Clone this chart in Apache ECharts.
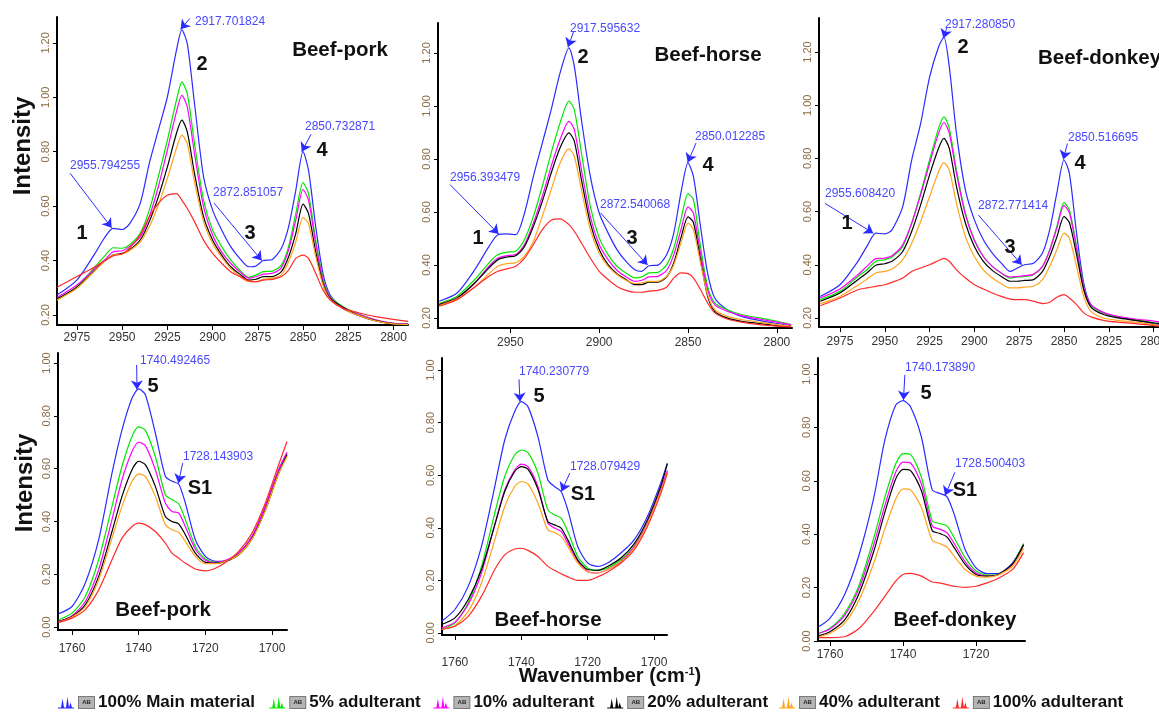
<!DOCTYPE html>
<html>
<head>
<meta charset="utf-8">
<script src="https://cdn.jsdelivr.net/npm/echarts@6/dist/echarts.min.js"></script>
<style>
  html, body { margin: 0; background: #fff; }
  #c { width: 1159px; height: 713px; }
</style>
</head>
<body>
<div id="c"></div>
<script>
// FTIR spectra of beef adulterated with pork / horse / donkey, C-H region (top) and C=O region (bottom).

const NAMES = ["100% Main material", "5% adulterant", "10% adulterant", "20% adulterant", "40% adulterant", "100% adulterant"];
const COLORS = ["#2b2bff", "#00e800", "#ff00ff", "#000000", "#ffa31a", "#ff2a2a"];

// ---- C-H stretching region (cm-1) ----
const xPorkCH = [2986, 2975, 2965, 2960, 2955, 2950, 2946, 2940, 2935, 2930, 2925, 2920, 2917, 2914, 2910, 2905, 2900, 2895, 2890, 2885, 2880, 2876, 2872, 2867, 2862, 2858, 2854, 2850, 2847, 2843, 2839, 2835, 2828, 2820, 2810, 2800, 2792];
const porkCH_main = [.273, .328, .426, .481, .518, .514, .534, .61, .757, .879, 1.001, 1.172, 1.248, 1.197, .977, .708, .585, .512, .451, .408, .377, .38, .40, .404, .445, .524, .659, .80, .732, .524, .353, .273, .224, .20, .179, .169, .167];
const porkCH_5 = [.255, .304, .377, .414, .447, .445, .457, .50, .585, .708, .842, .989, 1.056, 1.013, .83, .622, .512, .451, .402, .365, .338, .347, .359, .361, .383, .451, .573, .686, .646, .475, .335, .267, .231, .206, .182, .167, .163];
const porkCH_10 = [.264, .31, .371, .40, .432, .436, .451, .487, .561, .671, .806, .946, 1.007, .965, .793, .598, .494, .432, .39, .359, .335, .341, .35, .353, .374, .439, .549, .661, .622, .463, .328, .265, .228, .204, .182, .169, .165];
const porkCH_20 = [.259, .302, .365, .396, .42, .426, .439, .475, .543, .634, .744, .867, .916, .873, .72, .561, .475, .42, .377, .35, .328, .331, .341, .341, .359, .414, .50, .607, .573, .432, .316, .261, .228, .20, .179, .167, .165];
const porkCH_40 = [.255, .298, .363, .396, .42, .424, .436, .469, .524, .604, .702, .812, .861, .83, .689, .543, .463, .412, .371, .343, .322, .322, .331, .335, .347, .396, .469, .558, .536, .414, .31, .257, .224, .20, .178, .167, .165];
const porkCH_100 = [.302, .341, .377, .398, .417, .424, .445, .494, .561, .61, .64, .646, .622, .591, .543, .475, .426, .39, .359, .341, .325, .322, .328, .331, .341, .365, .408, .42, .408, .353, .292, .255, .224, .209, .194, .184, .176];

const xHorseCH = [2990, 2980, 2970, 2962, 2957, 2952, 2947, 2942, 2937, 2932, 2927, 2922, 2917, 2914, 2910, 2905, 2900, 2895, 2890, 2885, 2880, 2876, 2872, 2867, 2862, 2858, 2854, 2850, 2847, 2843, 2839, 2835, 2828, 2820, 2810, 2800, 2792];
const horseCH_main = [.263, .294, .382, .47, .514, .517, .514, .596, .735, .86, .986, 1.125, 1.219, 1.15, .948, .735, .596, .521, .458, .414, .382, .376, .397, .399, .439, .521, .672, .785, .735, .546, .37, .275, .231, .206, .191, .179, .171];
const horseCH_5 = [.254, .282, .345, .408, .439, .448, .452, .496, .584, .697, .823, .936, 1.018, .986, .823, .621, .502, .439, .395, .37, .351, .355, .37, .372, .401, .464, .571, .669, .647, .47, .319, .257, .231, .213, .20, .187, .175];
const horseCH_10 = [.25, .275, .332, .395, .426, .435, .439, .477, .558, .659, .772, .873, .942, .911, .76, .584, .477, .42, .38, .355, .338, .342, .355, .357, .38, .439, .533, .619, .596, .445, .307, .25, .225, .209, .196, .184, .174];
const horseCH_20 = [.25, .275, .332, .389, .42, .43, .435, .47, .546, .64, .747, .842, .898, .867, .722, .558, .458, .401, .367, .345, .326, .326, .335, .335, .355, .408, .502, .581, .561, .42, .282, .225, .20, .187, .179, .171, .169];
const horseCH_40 = [.247, .272, .317, .367, .395, .405, .408, .433, .489, .584, .684, .785, .838, .81, .684, .533, .445, .395, .364, .342, .33, .332, .338, .338, .357, .401, .483, .558, .533, .408, .288, .231, .206, .194, .184, .175, .169];
const horseCH_100 = [.244, .269, .317, .357, .376, .385, .395, .426, .477, .533, .569, .574, .552, .527, .483, .426, .376, .345, .319, .304, .297, .297, .301, .304, .317, .351, .37, .367, .351, .307, .257, .219, .196, .184, .175, .169, .166];

const xDonkeyCH = [2986, 2975, 2965, 2960, 2955, 2950, 2946, 2940, 2935, 2930, 2925, 2920, 2917, 2914, 2910, 2905, 2900, 2895, 2890, 2885, 2880, 2876, 2872, 2867, 2862, 2858, 2854, 2850, 2847, 2843, 2839, 2835, 2828, 2820, 2810, 2800, 2796];
const donkeyCH_main = [.281, .325, .413, .469, .519, .516, .531, .619, .794, .931, 1.106, 1.219, 1.256, 1.144, .894, .681, .569, .494, .444, .406, .375, .388, .40, .406, .444, .531, .669, .794, .744, .519, .331, .25, .219, .203, .191, .179, .175];
const donkeyCH_5 = [.269, .30, .356, .381, .413, .419, .429, .469, .556, .669, .794, .913, .956, .913, .756, .594, .494, .431, .394, .369, .35, .354, .356, .363, .394, .456, .544, .634, .606, .469, .319, .246, .219, .204, .194, .181, .179];
const donkeyCH_10 = [.275, .309, .363, .394, .423, .425, .434, .475, .556, .663, .781, .894, .935, .894, .744, .588, .491, .431, .394, .369, .354, .356, .359, .364, .394, .454, .538, .623, .596, .463, .316, .25, .221, .206, .196, .188, .184];
const donkeyCH_20 = [.263, .294, .344, .369, .398, .404, .413, .45, .525, .625, .738, .838, .875, .838, .694, .556, .469, .413, .379, .356, .338, .338, .341, .344, .375, .431, .504, .581, .559, .438, .306, .241, .213, .20, .191, .181, .179];
const donkeyCH_40 = [.254, .281, .323, .346, .369, .375, .384, .419, .481, .563, .656, .75, .784, .756, .631, .506, .431, .381, .35, .329, .313, .313, .316, .319, .344, .394, .456, .519, .50, .394, .281, .225, .20, .191, .184, .175, .171];
const donkeyCH_100 = [.246, .275, .306, .313, .319, .325, .334, .35, .375, .388, .40, .416, .424, .413, .381, .35, .325, .309, .294, .281, .271, .269, .269, .263, .254, .259, .278, .288, .275, .25, .219, .204, .191, .184, .179, .171, .169];

// ---- C=O stretching region (cm-1) ----
const xPorkCO = [1764, 1760, 1756, 1752, 1748, 1745, 1742, 1740, 1738, 1735, 1732, 1730, 1728, 1726, 1723, 1720, 1717, 1714, 1710, 1706, 1702, 1698, 1695.5];
const porkCO_main = [.051, .078, .167, .331, .583, .747, .867, .902, .88, .735, .571, .552, .542, .47, .331, .268, .249, .249, .28, .343, .457, .596, .659];
const porkCO_5 = [.028, .053, .116, .255, .457, .609, .722, .758, .745, .646, .501, .482, .467, .407, .306, .258, .245, .249, .274, .335, .444, .583, .646];
const porkCO_10 = [.021, .043, .097, .217, .407, .558, .665, .70, .687, .596, .47, .438, .432, .381, .295, .253, .245, .253, .28, .343, .457, .596, .662];
const porkCO_20 = [.021, .04, .085, .192, .362, .495, .596, .628, .615, .533, .419, .40, .391, .35, .28, .245, .242, .249, .274, .335, .444, .583, .653];
const porkCO_40 = [.018, .038, .078, .179, .337, .457, .552, .58, .571, .495, .388, .369, .359, .324, .268, .24, .24, .249, .274, .333, .442, .581, .646];
const porkCO_100 = [.018, .034, .066, .141, .255, .337, .381, .394, .388, .362, .318, .28, .261, .242, .22, .213, .223, .245, .287, .356, .47, .615, .703];

const xHorseCO = [1764, 1760, 1756, 1752, 1748, 1745, 1742, 1740, 1738, 1735, 1732, 1730, 1728, 1726, 1723, 1720, 1717, 1714, 1710, 1706, 1702, 1698, 1696];
const horseCO_main = [.044, .089, .177, .329, .557, .734, .842, .88, .861, .747, .582, .557, .538, .468, .329, .266, .253, .266, .304, .354, .443, .57, .646];
const horseCO_5 = [.013, .038, .114, .253, .456, .595, .677, .696, .686, .608, .468, .449, .437, .386, .291, .247, .238, .247, .278, .329, .42, .544, .614];
const horseCO_10 = [.019, .041, .108, .228, .411, .544, .62, .642, .633, .557, .418, .399, .386, .342, .272, .234, .228, .241, .272, .327, .418, .544, .618];
const horseCO_20 = [.032, .057, .127, .241, .411, .538, .614, .633, .623, .547, .424, .411, .399, .354, .278, .241, .238, .253, .285, .339, .43, .557, .643];
const horseCO_40 = [.013, .028, .082, .19, .354, .481, .557, .576, .567, .494, .392, .382, .367, .329, .266, .232, .228, .241, .27, .323, .414, .538, .61];
const horseCO_100 = [.013, .025, .063, .139, .241, .297, .319, .322, .314, .291, .253, .238, .225, .213, .20, .20, .213, .232, .266, .316, .405, .529, .608];

const xDonkeyCO = [1763, 1760, 1756, 1752, 1748, 1745, 1742, 1740, 1738, 1735, 1732, 1730, 1728, 1726, 1723, 1720, 1717, 1714, 1710, 1707];
const donkeyCO_main = [.054, .086, .174, .325, .538, .752, .884, .90, .878, .765, .566, .553, .541, .475, .343, .274, .252, .252, .293, .362];
const donkeyCO_5 = [.029, .048, .104, .211, .387, .538, .664, .702, .699, .614, .45, .44, .431, .387, .312, .262, .247, .249, .289, .365];
const donkeyCO_10 = [.029, .045, .096, .199, .362, .507, .633, .67, .667, .589, .431, .419, .406, .365, .297, .255, .243, .247, .287, .36];
const donkeyCO_20 = [.02, .035, .079, .18, .337, .482, .608, .643, .639, .564, .413, .403, .39, .35, .287, .249, .243, .249, .289, .36];
const donkeyCO_40 = [.016, .029, .067, .155, .293, .419, .532, .57, .566, .501, .377, .365, .352, .318, .268, .243, .239, .247, .281, .347];
const donkeyCO_100 = [.013, .013, .016, .048, .111, .167, .224, .249, .253, .243, .221, .218, .211, .205, .201, .205, .218, .234, .268, .331];

// tick labels
const ticksCH25 = [2975, 2950, 2925, 2900, 2875, 2850, 2825, 2800];
const ticksCH50 = [2950, 2900, 2850, 2800];
const ticksCO = [1760, 1740, 1720, 1700];
const ticksCO3 = [1760, 1740, 1720];
const ticksTop = [0.2, 0.4, 0.6, 0.8, 1.0, 1.2];
const ticksBot = [0, 0.2, 0.4, 0.6, 0.8, 1.0];

// peak arrows: [tail, tip] in data units
const arrowsPorkCH = [[[2912.5, 1.29], [2917.7, 1.25]], [[2978.8, 0.721], [2955.8, 0.52]], [[2899.2, 0.611], [2872.85, 0.40]], [[2845.6, 0.864], [2850.73, 0.80]]];
const arrowsHorseCH = [[[2914.4, 1.28], [2917.6, 1.222]], [[2983.9, 0.703], [2956.6, 0.517]], [[2899.2, 0.596], [2872.8, 0.40]], [[2845.5, 0.86], [2850.2, 0.787]]];
const arrowsDonkeyCH = [[[2915.4, 1.29], [2917.3, 1.252]], [[2983.4, 0.631], [2956.4, 0.519]], [[2897.8, 0.587], [2873.6, 0.40]], [[2848.1, 0.856], [2850.4, 0.796]]];
const arrowsPorkCO = [[[1740.6, 0.993], [1740.5, 0.90]], [[1726.8, 0.621], [1728.1, 0.545]]];
const arrowsHorseCO = [[[1740.7, 0.965], [1740.4, 0.88]], [[1725.4, 0.608], [1727.9, 0.538]]];
const arrowsDonkeyCO = [[[1739.5, 0.997], [1739.9, 0.903]], [[1725.8, 0.632], [1728.5, 0.545]]];

const panels = [
  { x: xPorkCH, ys: [porkCH_main, porkCH_5, porkCH_10, porkCH_20, porkCH_40, porkCH_100], arrows: arrowsPorkCH,
    grid: { left: 57, top: 17, width: 351, height: 308 }, xr: [2792, 2986], yr: [0.163, 1.295], xt: ticksCH25, yt: ticksTop, m: 7 },
  { x: xHorseCH, ys: [horseCH_main, horseCH_5, horseCH_10, horseCH_20, horseCH_40, horseCH_100], arrows: arrowsHorseCH,
    grid: { left: 438, top: 23, width: 354, height: 305 }, xr: [2791.5, 2990.7], yr: [0.162, 1.313], xt: ticksCH50, yt: ticksTop, m: 9 },
  { x: xDonkeyCH, ys: [donkeyCH_main, donkeyCH_5, donkeyCH_10, donkeyCH_20, donkeyCH_40, donkeyCH_100], arrows: arrowsDonkeyCH,
    grid: { left: 819, top: 18, width: 340, height: 309 }, xr: [2797, 2986.7], yr: [0.166, 1.328], xt: ticksCH25, yt: ticksTop, m: 9 },
  { x: xPorkCO, ys: [porkCO_main, porkCO_5, porkCO_10, porkCO_20, porkCO_40, porkCO_100], arrows: arrowsPorkCO,
    grid: { left: 58, top: 353, width: 229, height: 277 }, xr: [1695.5, 1764.2], yr: [-0.011, 1.038], xt: ticksCO, yt: ticksBot, m: 13 },
  { x: xHorseCO, ys: [horseCO_main, horseCO_5, horseCO_10, horseCO_20, horseCO_40, horseCO_100], arrows: arrowsHorseCO,
    grid: { left: 442, top: 358, width: 225, height: 277 }, xr: [1696.1, 1763.9], yr: [-0.008, 1.046], xt: ticksCO, yt: ticksBot, m: 22 },
  { x: xDonkeyCO, ys: [donkeyCO_main, donkeyCO_5, donkeyCO_10, donkeyCO_20, donkeyCO_40, donkeyCO_100], arrows: arrowsDonkeyCO,
    grid: { left: 818, top: 358, width: 207, height: 283 }, xr: [1706.6, 1763.3], yr: [0, 1.06], xt: ticksCO3, yt: ticksBot, m: 8 },
];

const FONT = "'Liberation Sans', Arial, sans-serif";

const grid = [], xAxis = [], yAxis = [], series = [];
panels.forEach((p, i) => {
  grid.push({ ...p.grid, containLabel: false, outerBoundsMode: "none" });
  xAxis.push({
    type: "value", gridIndex: i, inverse: true, min: p.xr[0], max: p.xr[1],
    axisLine: { onZero: false, lineStyle: { color: "#000", width: 2 } },
    axisTick: { customValues: p.xt, length: 5, lineStyle: { color: "#000" } },
    axisLabel: { customValues: p.xt, margin: p.m, fontSize: 12, fontFamily: FONT, color: "#333", formatter: (v) => String(v) },
    splitLine: { show: false },
  });
  yAxis.push({
    type: "value", gridIndex: i, min: p.yr[0], max: p.yr[1],
    axisLine: { show: true, onZero: false, lineStyle: { color: "#000", width: 2 } },
    axisTick: { show: true, customValues: p.yt, length: 4, lineStyle: { color: "#000" } },
    axisLabel: { customValues: p.yt, rotate: 90, margin: 6, fontSize: 11, fontFamily: FONT, color: "#8a6c46",
      formatter: (v) => v.toFixed(2) },
    splitLine: { show: false },
  });
  p.ys.forEach((ys, k) => {
    const s = {
      type: "line", name: NAMES[k], xAxisIndex: i, yAxisIndex: i,
      data: p.x.map((x, j) => [x, ys[j]]),
      symbol: "none", smooth: 0.25,
      lineStyle: { color: COLORS[k], width: 1.2 }, itemStyle: { color: COLORS[k] },
      silent: true, z: 2 + k,
    };
    if (k === 0) {
      s.markLine = {
        silent: true, symbol: ["none", "arrow"], symbolSize: 9,
        label: { show: false }, lineStyle: { color: "#2b2bff", width: 1, type: "solid" },
        data: p.arrows.map((a) => [{ coord: a[0] }, { coord: a[1] }]),
      };
    }
    series.push(s);
  });
});

// text annotations
const peakLabel = (x, y, t) => ({ type: "text", x, y, z: 100, style: { text: t, fill: "#4848ff", fontSize: 12, fontFamily: FONT, verticalAlign: "middle" } });
const bandLabel = (x, y, t) => ({ type: "text", x, y, z: 100, style: { text: t, fill: "#111", fontSize: 20, fontWeight: "bold", fontFamily: FONT, align: "center", verticalAlign: "middle" } });
const nameLabel = (x, y, t, align) => ({ type: "text", x, y, z: 100, style: { text: t, fill: "#111", fontSize: 20.5, fontWeight: "bold", fontFamily: FONT, align: align || "center", verticalAlign: "middle" } });

const graphic = [
  peakLabel(195, 22, "2917.701824"), peakLabel(70, 166, "2955.794255"), peakLabel(213, 193, "2872.851057"), peakLabel(305, 127, "2850.732871"),
  bandLabel(82, 233, "1"), bandLabel(202, 64, "2"), bandLabel(250, 233, "3"), bandLabel(322, 150, "4"), nameLabel(340, 50, "Beef-pork"),

  peakLabel(570, 29, "2917.595632"), peakLabel(450, 178, "2956.393479"), peakLabel(600, 205, "2872.540068"), peakLabel(695, 137, "2850.012285"),
  bandLabel(478, 238, "1"), bandLabel(583, 57, "2"), bandLabel(632, 238, "3"), bandLabel(708, 165, "4"), nameLabel(708, 55, "Beef-horse"),

  peakLabel(945, 25, "2917.280850"), peakLabel(825, 194, "2955.608420"), peakLabel(978, 206, "2872.771414"), peakLabel(1068, 138, "2850.516695"),
  bandLabel(847, 223, "1"), bandLabel(963, 47, "2"), bandLabel(1010, 247, "3"), bandLabel(1080, 163, "4"), nameLabel(1038, 58, "Beef-donkey", "left"),

  peakLabel(140, 361, "1740.492465"), peakLabel(183, 457, "1728.143903"), bandLabel(153, 386, "5"), bandLabel(200, 488, "S1"), nameLabel(163, 610, "Beef-pork"),
  peakLabel(519, 372, "1740.230779"), peakLabel(570, 467, "1728.079429"), bandLabel(539, 396, "5"), bandLabel(583, 494, "S1"), nameLabel(548, 620, "Beef-horse"),
  peakLabel(905, 368, "1740.173890"), peakLabel(955, 464, "1728.500403"), bandLabel(926, 393, "5"), bandLabel(965, 490, "S1"), nameLabel(955, 620, "Beef-donkey"),

  { type: "text", x: 23, y: 146, rotation: Math.PI / 2, z: 100, style: { text: "Intensity", fill: "#111", fontSize: 24, fontWeight: "bold", fontFamily: FONT, align: "center", verticalAlign: "middle" } },
  { type: "text", x: 25, y: 483, rotation: Math.PI / 2, z: 100, style: { text: "Intensity", fill: "#111", fontSize: 24, fontWeight: "bold", fontFamily: FONT, align: "center", verticalAlign: "middle" } },
  { type: "text", x: 610, y: 676, z: 100, style: {
      text: "{a|Wavenumber (cm}{s|-1}{a|)}", align: "center", verticalAlign: "middle",
      rich: { a: { fontSize: 20, fontWeight: "bold", fontFamily: FONT, fill: "#111" },
              s: { fontSize: 11, fontWeight: "bold", fontFamily: FONT, fill: "#111", verticalAlign: "top", padding: [0, 0, 8, 0] } } } },
];

// legend: spiky spectrum glyph + grey "AB" box + name; a trailing spacer keeps the figure's spacing
const PEAK_ICON = "path://M0,11L3,11L4.5,2L6,11L8,11L9.5,0L11,11L12.5,6L14,11L16,11L16,12L0,12Z";
const legendW = [185, 136, 146, 142, 146, 140];
const ctx = document.createElement("canvas").getContext("2d");
ctx.font = "bold 17px 'Liberation Sans', Arial, sans-serif";
const rich = {
  ab: { fontSize: 6, fontWeight: "bold", fontFamily: FONT, color: "#222", backgroundColor: "#b4b4b4", borderColor: "#7a7a7a", borderWidth: 1,
        width: 15, height: 11, lineHeight: 11, align: "center" },
};
NAMES.forEach((n, i) => {
  rich["t" + i] = { fontSize: 17, fontWeight: "bold", fontFamily: FONT, color: "#111", padding: [0, 0, 0, 4] };
  rich["s" + i] = { fontSize: 17, width: Math.max(1, legendW[i] - 4 - ctx.measureText(n).width) };
});

const chart = echarts.init(document.getElementById("c"), null, { renderer: "canvas" });
chart.setOption({
  animation: false,
  backgroundColor: "#fff",
  grid, xAxis, yAxis, series, graphic,
  legend: {
    data: NAMES, left: 53, top: 689, width: 1104, itemGap: 0, itemWidth: 16, itemHeight: 12, icon: PEAK_ICON, selectedMode: false,
    formatter: (n) => { const i = NAMES.indexOf(n); return `{ab|AB}{t${i}|${n}}{s${i}| }`; },
    textStyle: { rich },
  },
});
</script>
</body>
</html>
